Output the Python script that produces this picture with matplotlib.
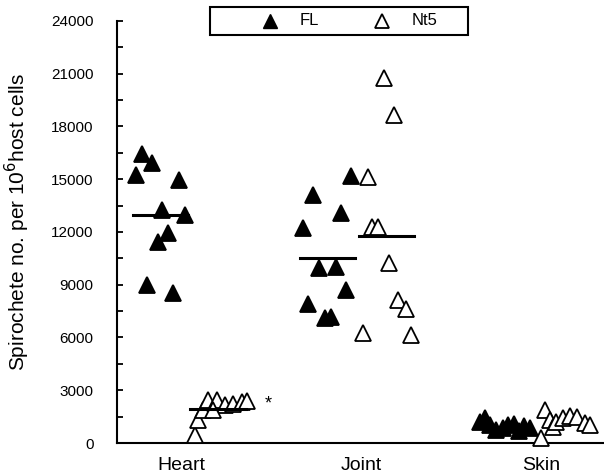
#Spirochete burden per tissue: FL (filled) vs Nt5 (open), with group means.
import numpy as np
import matplotlib.pyplot as plt
from matplotlib.lines import Line2D
from matplotlib.patches import Rectangle

plt.rcParams['font.family'] = ['Liberation Sans', 'DejaVu Sans']

#Categories on the x axis.
tecidos = ['Heart', 'Joint', 'Skin']

#Values (spirochetes per 10^6 host cells) and their jitter x positions.
heart_fl = [16440, 15930, 15240, 14960, 13250, 12970, 11930, 11450, 8990, 8515]
heart_fl_x = [0.783, 0.839, 0.750, 0.989, 0.894, 1.022, 0.928, 0.872, 0.811, 0.956]
heart_nt5 = [455, 1310, 1900, 2450, 2450, 2150, 2200, 2330, 2370, 1850]
heart_nt5_x = [1.078, 1.094, 1.122, 1.150, 1.200, 1.244, 1.289, 1.339, 1.367, 1.178]

joint_fl = [15190, 14110, 13070, 12210, 9940, 10030, 8700, 7910, 7090, 7150]
joint_fl_x = [1.944, 1.733, 1.889, 1.678, 1.767, 1.861, 1.917, 1.706, 1.800, 1.833]
joint_nt5 = [20740, 18660, 15150, 12270, 12300, 10220, 8130, 7600, 6240, 6140]
joint_nt5_x = [2.128, 2.183, 2.039, 2.061, 2.094, 2.156, 2.206, 2.250, 2.011, 2.278]

skin_fl = [1200, 1420, 1000, 750, 850, 1020, 1100, 700, 950, 850]
skin_fl_x = [2.661, 2.689, 2.717, 2.750, 2.789, 2.817, 2.850, 2.878, 2.906, 2.939]
skin_nt5 = [300, 1900, 1300, 900, 1200, 1450, 1550, 1500, 1150, 1050]
skin_nt5_x = [3.000, 3.022, 3.050, 3.067, 3.083, 3.122, 3.161, 3.200, 3.244, 3.272]

fig = plt.figure(figsize=(6.04, 4.74), dpi=100)
ax = fig.add_axes([0.194, 0.0654, 0.806, 0.8903])

grupos = [
    (heart_fl_x, heart_fl, 'black', True),
    (heart_nt5_x, heart_nt5, 'white', True),
    (joint_fl_x, joint_fl, 'black', True),
    (joint_nt5_x, joint_nt5, 'white', True),
    (skin_fl_x, skin_fl, 'black', False),
    (skin_nt5_x, skin_nt5, 'white', False),
]
for xs, ys, face, media in grupos:
    ax.plot(xs, ys, ls='', marker='^', ms=12, mfc=face, mec='black', mew=1.3,
            clip_on=False, zorder=3)
    # mean line of the group
    if media:
        xc = np.mean(xs)
        ax.plot([xc - 0.155, xc + 0.155], [np.mean(ys)] * 2, c='black', lw=2.2, zorder=4)

#Significance mark next to the heart Nt5 group.
ax.text(np.max(heart_nt5_x) + 0.115, np.mean(heart_nt5) + 250, '*', fontsize=13,
        ha='center', va='center')

ax.set_xlim(0.644, 3.35)
ax.set_ylim(0, 24000)
ax.set_yticks(np.arange(0, 24001, 3000))
ax.set_yticks(np.arange(1500, 24000, 3000), minor=True)
ax.set_xticks([1, 2, 3])
ax.set_xticklabels(tecidos, fontsize=14)
ax.tick_params(axis='y', which='both', direction='in', length=4, width=1.3, pad=17, labelsize=11)
ax.tick_params(axis='x', length=0, pad=10)
for lado in ['top', 'right']:
    ax.spines[lado].set_visible(False)
ax.spines['left'].set_linewidth(1.5)
ax.spines['bottom'].set_linewidth(1.5)
ax.set_ylabel('Spirochete no. per 10$^6$host cells', fontsize=15)
ax.yaxis.set_label_coords(-0.174, 0.524)

#Legend box drawn by hand (markers sit off-centre in the original frame).
fig.add_artist(Rectangle((0.348, 0.926), 0.427, 0.059, transform=fig.transFigure,
                         fill=False, ec='black', lw=1.5))
fig.add_artist(Line2D([0.447], [0.9557], transform=fig.transFigure, ls='', marker='^',
                      ms=9.5, mfc='black', mec='black'))
fig.add_artist(Line2D([0.6325], [0.9557], transform=fig.transFigure, ls='', marker='^',
                      ms=9.5, mfc='white', mec='black', mew=1.3))
fig.text(0.4967, 0.9557, 'FL', fontsize=12, va='center')
fig.text(0.682, 0.9557, 'Nt5', fontsize=12, va='center')

fig.savefig('out.png', dpi=100)
